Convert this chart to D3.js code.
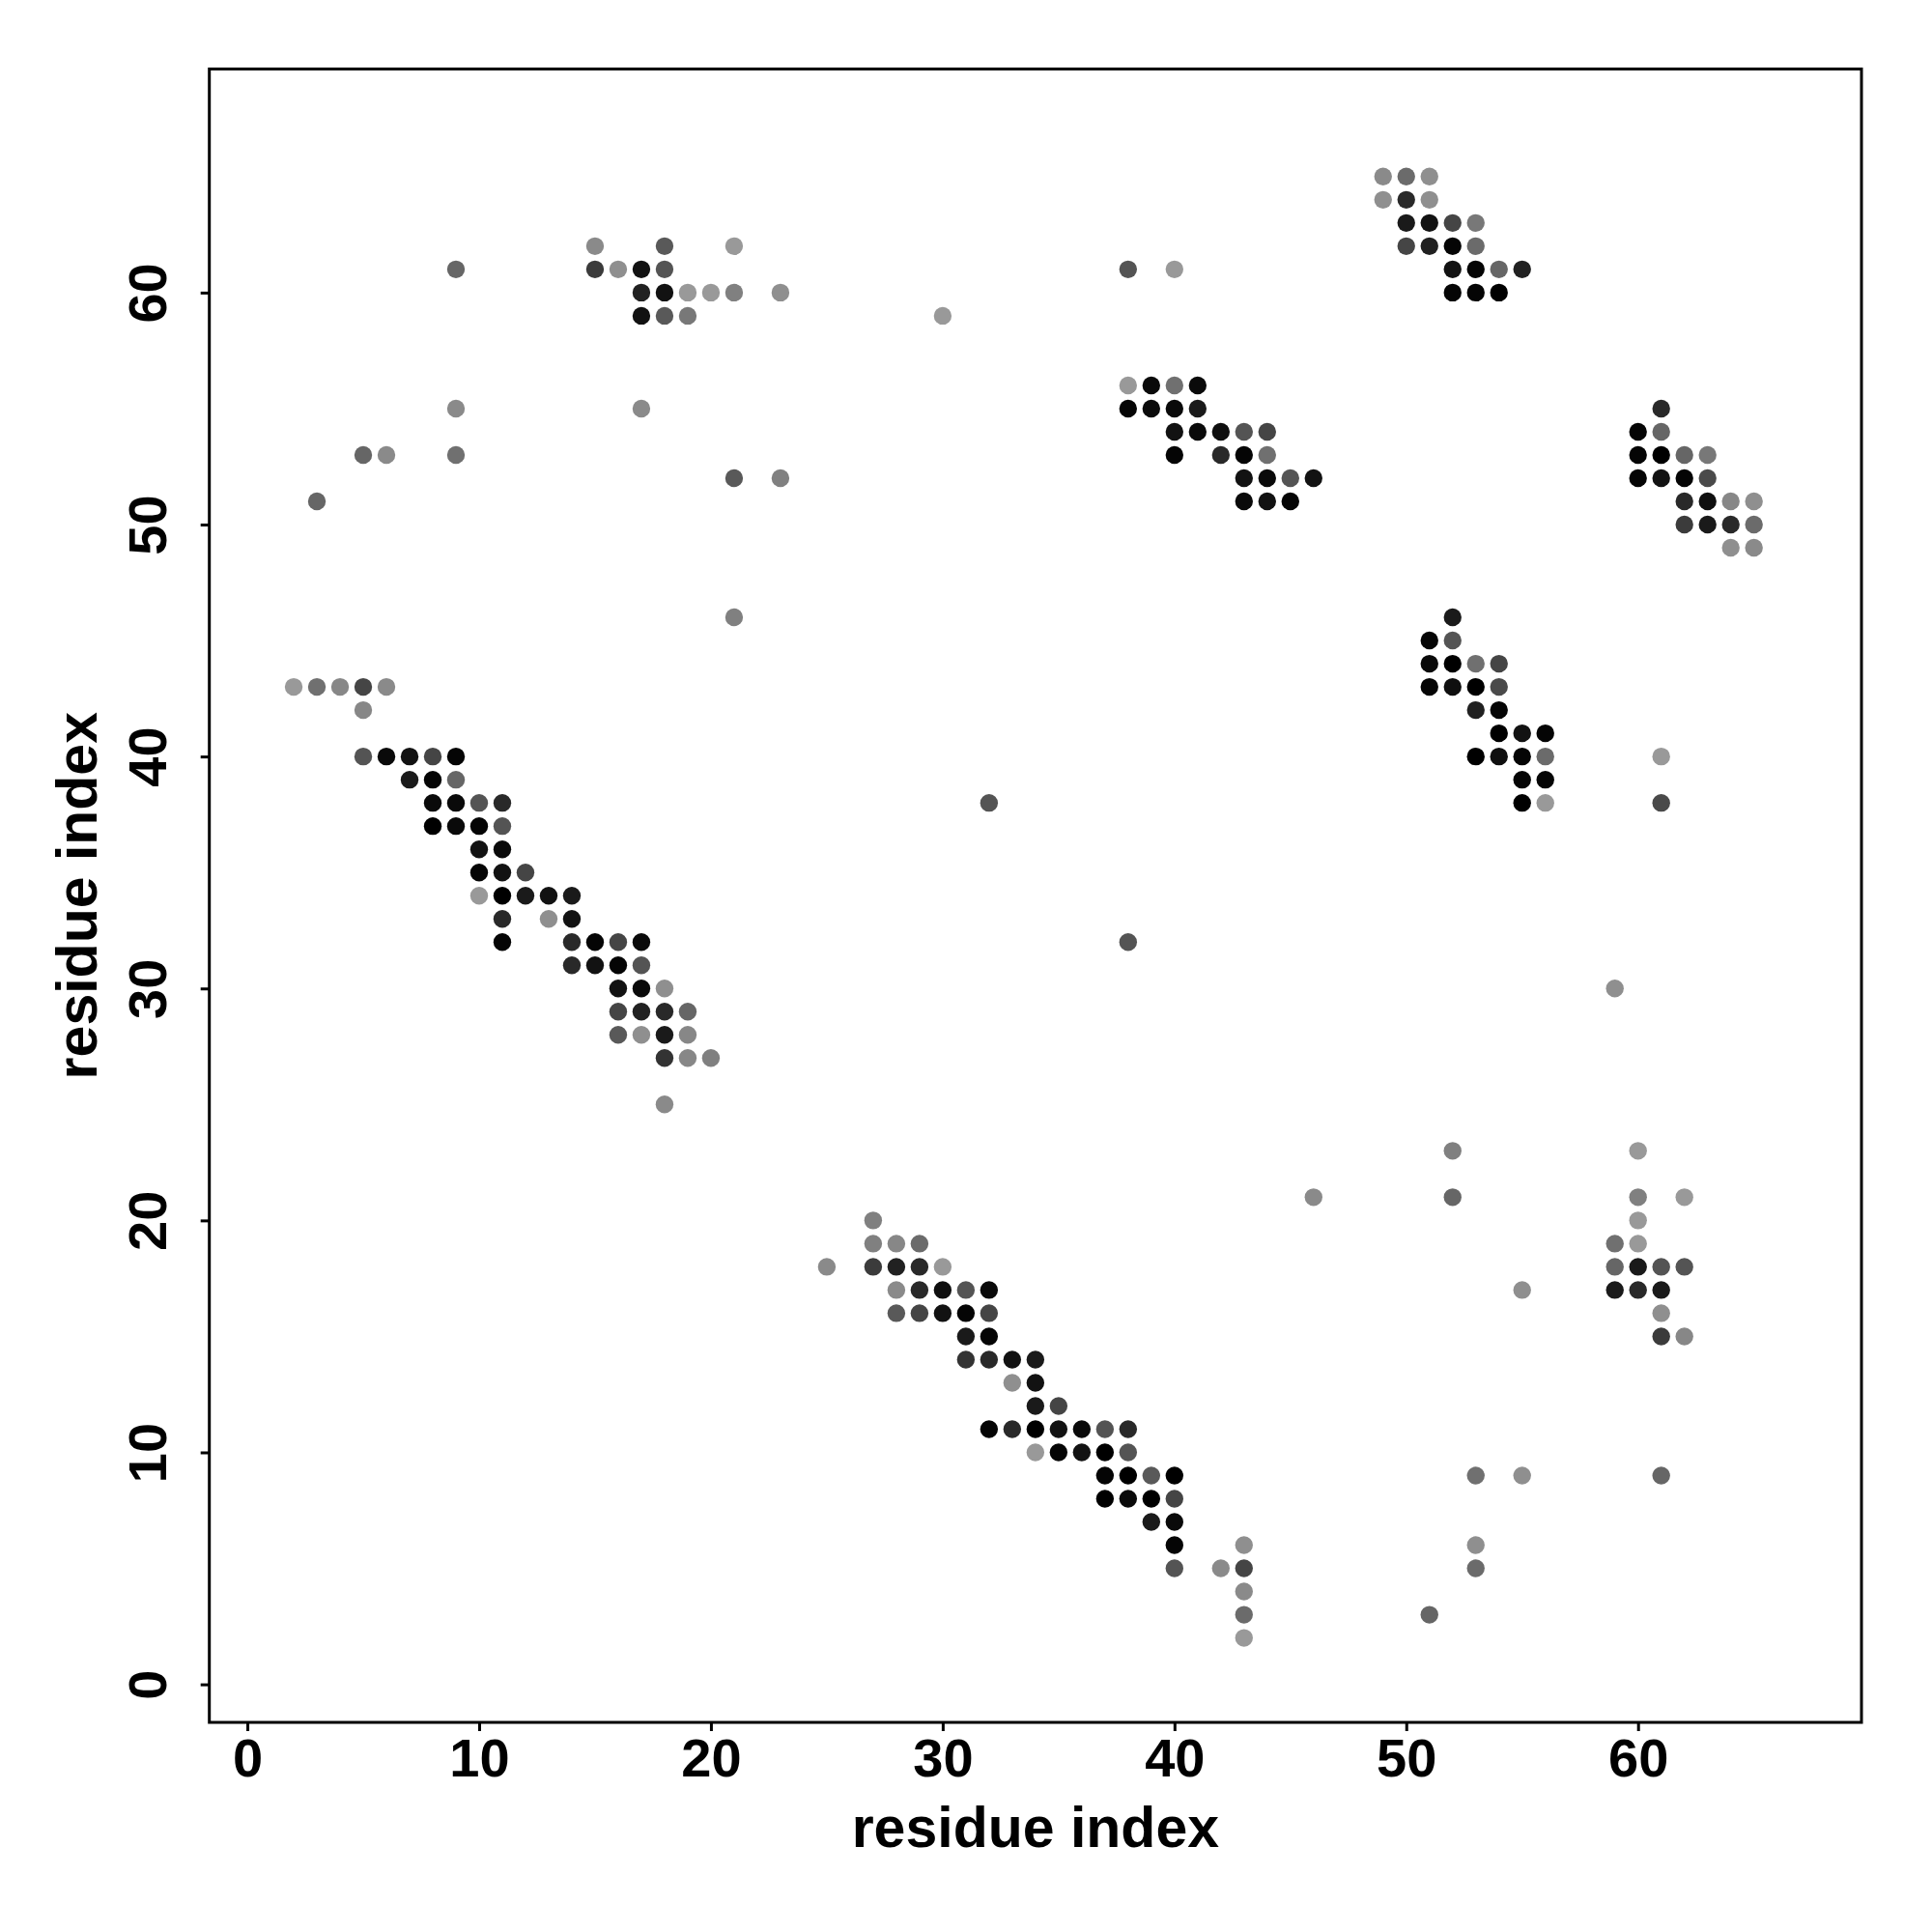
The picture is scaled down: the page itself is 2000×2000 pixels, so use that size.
<!DOCTYPE html>
<html>
<head>
<meta charset="utf-8">
<script src="https://cdn.jsdelivr.net/npm/d3@7"></script>
<style>
  html, body { margin: 0; padding: 0; background: #fff; }
  svg { display: block; }
  text { font-family: "Liberation Sans", Arial, Helvetica, sans-serif; font-weight: bold; }
</style>
</head>
<body>
<script>
// ---- data: contact map (residue i, residue j, contact strength 0..1) ----
const resI = [
  15,18,21, 9,15,16,17,18, 17,18,19,20,21,23, 17,18,19, 9,17, 5,6,9, 21,23, 3, 21,
  2,3,4,5,6, 5,
  5,6,7,8,9, 7,8,9, 8,9,10,11, 8,9,10,11, 10,11, 10,11,12, 10,11,12,13,14, 11,13,14,
  11,14,15,16,17, 14,15,16,17, 16,17,18, 16,17,18,19, 16,17,18,19, 18,19,20, 18,
  46, 27, 27,28,29, 25,27,28,29,30, 28,29,30,31,32, 28,29,30,31,32, 31,32, 31,32,33,34,
  33,34, 34,35, 32,33,34,35,36,37,38, 34,35,36,37,38, 37,38,39,40, 37,38,39,40, 39,40,
  40,43, 40,42,43, 43, 43, 43, 32, 38,
  38,40, 30, 38,39,40,41, 38,39,40,41, 40,41,42,43,44, 40,42,43,44, 43,44,45,46, 43,44,45,
  49,50,51, 49,50,51, 50,51,52,53, 50,51,52,53, 52,53,54,55, 52,53,54,
  61, 60,61, 60,61,62,63, 60,61,62,63, 62,63,64,65, 62,63,64,65, 64,65,
  52, 51,52, 51,52,53,54, 51,52,53,54, 53,54, 54,55,56, 53,54,55,56,61, 55,56, 55,56,61, 59,
  52,60, 52,60,62, 60, 59,60, 59,60,61,62, 55,59,60,61, 61, 61,62, 53,55,61, 53, 53, 51
];
const resJ = [
  62,62,62, 61,61,61,61,61, 60,60,60,60,60,60, 59,59,59, 55,55, 53,53,53, 52,52, 51, 46,
  43,43,43,43,43, 42,
  40,40,40,40,40, 39,39,39, 38,38,38,38, 37,37,37,37, 36,36, 35,35,35, 34,34,34,34,34, 33,33,33,
  32,32,32,32,32, 31,31,31,31, 30,30,30, 29,29,29,29, 28,28,28,28, 27,27,27, 25,
  21, 20, 19,19,19, 18,18,18,18,18, 17,17,17,17,17, 16,16,16,16,16, 15,15, 14,14,14,14,
  13,13, 12,12, 11,11,11,11,11,11,11, 10,10,10,10,10, 9,9,9,9, 8,8,8,8, 7,7,
  6,6, 5,5,5, 4, 3, 2, 38, 32,
  61,61, 59, 56,56,56,56, 55,55,55,55, 54,54,54,54,54, 53,53,53,53, 52,52,52,52, 51,51,51,
  65,65,65, 64,64,64, 63,63,63,63, 62,62,62,62, 61,61,61,61, 60,60,60,
  55, 54,54, 53,53,53,53, 52,52,52,52, 51,51,51,51, 50,50,50,50, 49,49,
  46, 45,45, 44,44,44,44, 43,43,43,43, 42,42, 41,41,41, 40,40,40,40,40, 39,39, 38,38,38, 30,
  23,23, 21,21,21, 20, 19,19, 18,18,18,18, 17,17,17,17, 16, 15,15, 9,9,9, 6, 5, 3
];
const strength = [
  .46,.65,.40, .60,.77,.44,.93,.67, .87,.93,.40,.40,.50,.44, .93,.65,.53, .46,.46, .60,.46,.56, .65,.50, .60, .50,
  .40,.56,.47,.73,.46, .47,
  .67,.96,.93,.73,.98, .90,.98,.60, .96,.96,.67,.84, 1,.96,.98,.67, .93,.96, .98,.93,.73, .40,1,.90,.93,.90, .84,.44,.93,
  .98,.84,.98,.73,.96, .84,.93,.98,.67, .93,.96,.44, .73,.87,.84,.60, .65,.44,.90,.47, .80,.47,.50, .46,
  .46, .50, .50,.47,.58, .46,.77,.87,.84,.40, .46,.84,.94,.67,.96, .65,.73,.93,.98,.73, .90,.98, .80,.84,.93,.90,
  .44,.93, .90,.73, .98,.84,1,.93,.96,.67,.84, .40,.98,.93,1,.67, .98,1,.65,1, 1,.96,1,.73, .90,.96,
  .98,.44, .67,.46,.73, .46, .58, .40, .67, .67,
  .67,.40, .40, .40,.96,.56,.96, .98,.96,.96,.90, .93,.96,.94,.67,.73, .98,.84,.98,.56, .93,.96,.67,.93, .96,.93,.98,
  .46,.58,.44, .44,.84,.44, .90,.93,.73,.53, .73,.87,.98,.58, .93,.98,.60,.87, .98,.98,1,
  .84, .98,.60, .98,1,.60,.53, .98,.93,.98,.71, .84,.94,.47,.44, .77,.90,.84,.58, .44,.46,
  .90, .98,.67, .96,1,.56,.73, .98,.94,1,.71, .87,.98, 1,.93,.98, 1,.94,.98,.58,.40, .98,.98, 1,.40,.71, .44,
  .50,.40, .60,.50,.40, .40, .56,.40, .60,.90,.67,.67, .44,.90,.84,.90, .44, .77,.47, .56,.44,.60, .44, .58, .60
];
const xTicks = [0, 10, 20, 30, 40, 50, 60];
const yTicks = [0, 10, 20, 30, 40, 50, 60];
const xLabel = "residue index";
const yLabel = "residue index";

// ---- layout ----
const W = 2000, H = 2000;
const plot = { left: 216.7, right: 1927, top: 71.4, bottom: 1783 };
const dom = [-1.64, 69.64];

const svg = d3.select("body").append("svg").attr("width", W).attr("height", H);
svg.append("rect").attr("width", W).attr("height", H).attr("fill", "#fff");

const x = d3.scaleLinear().domain(dom).range([plot.left, plot.right]);
const y = d3.scaleLinear().domain(dom).range([plot.bottom, plot.top]);
const shade = d3.scaleLinear().domain([0, 1]).range(["#ffffff", "#000000"]);

const pts = resI.map((v, k) => ({ i: v, j: resJ[k], s: strength[k] }));

svg.append("g").selectAll("circle").data(pts).enter().append("circle")
  .attr("cx", d => x(d.i))
  .attr("cy", d => y(d.j))
  .attr("r", 9.2)
  .attr("fill", d => shade(d.s));

// box
svg.append("rect")
  .attr("x", plot.left).attr("y", plot.top)
  .attr("width", plot.right - plot.left).attr("height", plot.bottom - plot.top)
  .attr("fill", "none").attr("stroke", "#000").attr("stroke-width", 3);

// x axis
const gx = svg.append("g").attr("transform", `translate(0,${plot.bottom})`)
  .call(d3.axisBottom(x).tickValues(xTicks).tickSize(9).tickPadding(10).tickFormat(d3.format("d")));
gx.select(".domain").remove();
gx.selectAll(".tick line").attr("stroke", "#000").attr("stroke-width", 3);
gx.selectAll(".tick text").attr("font-size", 56).attr("fill", "#000")
  .attr("font-family", "'Liberation Sans', Arial, sans-serif").attr("font-weight", "bold")
  .attr("dy", null).attr("y", 56);

// y axis
const gy = svg.append("g").attr("transform", `translate(${plot.left},0)`)
  .call(d3.axisLeft(y).tickValues(yTicks).tickSize(9).tickFormat(d3.format("d")));
gy.select(".domain").remove();
gy.selectAll(".tick line").attr("stroke", "#000").attr("stroke-width", 3);
gy.selectAll(".tick text").attr("font-size", 56).attr("fill", "#000")
  .attr("font-family", "'Liberation Sans', Arial, sans-serif").attr("font-weight", "bold")
  .attr("x", null).attr("dy", null)
  .attr("text-anchor", "middle")
  .attr("transform", `translate(${172 - plot.left},0) rotate(-90)`);

// axis titles
svg.append("text")
  .attr("x", (plot.left + plot.right) / 2).attr("y", 1912)
  .attr("text-anchor", "middle").attr("font-size", 59).attr("fill", "#000")
  .text(xLabel);
svg.append("text")
  .attr("transform", `translate(100,${(plot.top + plot.bottom) / 2}) rotate(-90)`)
  .attr("text-anchor", "middle").attr("font-size", 59).attr("fill", "#000")
  .text(yLabel);
</script>
</body>
</html>
